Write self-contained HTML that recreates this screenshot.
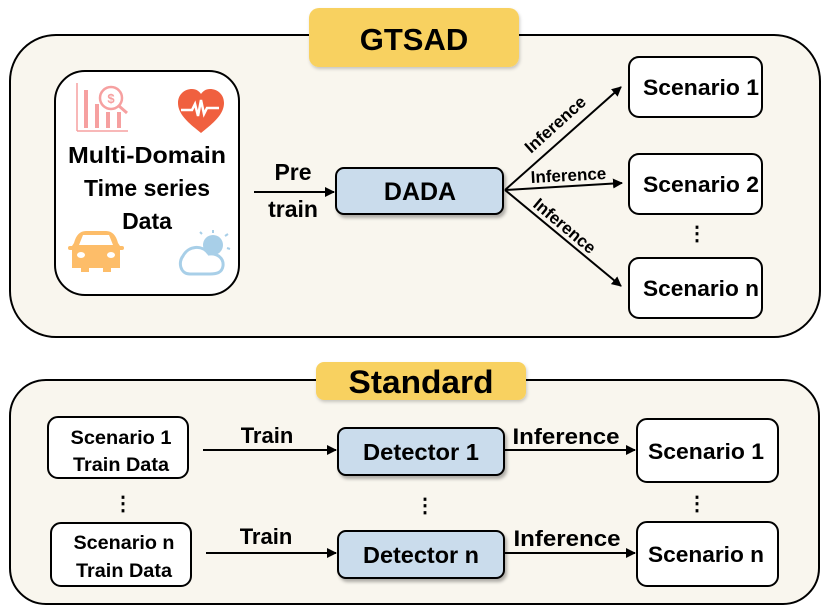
<!DOCTYPE html>
<html><head><meta charset="utf-8">
<style>
html,body{margin:0;padding:0;background:#fff;}
svg{display:block;}
text{font-family:"Liberation Sans",sans-serif;font-weight:bold;fill:#000;}
</style></head>
<body>
<svg width="831" height="609" viewBox="0 0 831 609" xmlns="http://www.w3.org/2000/svg">
<defs>
<marker id="ah" markerWidth="10" markerHeight="10" refX="9" refY="5" orient="auto" markerUnits="userSpaceOnUse">
<path d="M0,0 L10,5 L0,10 z" fill="#000"/></marker>
<filter id="sh" x="-10%" y="-20%" width="130%" height="150%"><feDropShadow dx="2" dy="3" stdDeviation="1.5" flood-color="#000" flood-opacity="0.3"/></filter>
<filter id="sh2" x="-10%" y="-20%" width="130%" height="150%"><feDropShadow dx="1" dy="2" stdDeviation="1.5" flood-color="#000" flood-opacity="0.2"/></filter>
</defs>

<rect x="10" y="35" width="810" height="302" rx="46" fill="#f9f6ee" stroke="#000" stroke-width="2"/>
<rect x="309" y="8" width="210" height="59" rx="10" fill="#f8d160" filter="url(#sh2)"/>
<text x="414" y="50" font-size="31" text-anchor="middle">GTSAD</text>

<rect x="55" y="71" width="184" height="224" rx="30" fill="#fff" stroke="#000" stroke-width="2"/>
<g stroke="#f6a0a0" fill="none" stroke-width="1.5">
<line x1="77" y1="83" x2="77" y2="131"/><line x1="77" y1="131" x2="128" y2="131"/>
</g>
<g fill="#f6a0a0">
<rect x="84" y="90" width="4" height="38"/><rect x="95" y="104" width="4" height="24"/>
<rect x="106" y="112" width="4" height="16"/><rect x="117" y="112" width="4" height="16"/>
</g>
<circle cx="111" cy="98" r="11" fill="#fff" stroke="#f6a0a0" stroke-width="2.5"/>
<line x1="119" y1="106" x2="127" y2="113" stroke="#f6a0a0" stroke-width="3"/>
<text x="111" y="103" font-size="13" text-anchor="middle" style="fill:#f6a0a0">$</text>
<path d="M201,133 C190,124 178,115 178,103 C178,94 185,89 192,89 C196,89 199,91 201,94 C203,91 206,89 210,89 C217,89 224,94 224,103 C224,115 212,124 201,133 z" fill="#f0603f"/>
<polyline points="181,110 192,110 195,104 198,116 201,100 204,114 207,108 219,108" fill="none" stroke="#fff" stroke-width="2.5"/>
<text x="147" y="163" font-size="23" text-anchor="middle" textLength="158" lengthAdjust="spacingAndGlyphs">Multi-Domain</text>
<text x="147" y="196" font-size="23" text-anchor="middle" textLength="126" lengthAdjust="spacingAndGlyphs">Time series</text>
<text x="147" y="229" font-size="23" text-anchor="middle">Data</text>
<path d="M74,243 C76,235 80,231 86,231 L106,231 C112,231 116,235 118,243 L120,246 L120,268 L111,268 L111,272 L103,272 L103,268 L89,268 L89,272 L81,272 L81,268 L72,268 L72,246 z" fill="#fdbd69"/>
<rect x="68" y="246" width="6" height="4" rx="2" fill="#fdbd69"/><rect x="118" y="246" width="6" height="4" rx="2" fill="#fdbd69"/>
<path d="M79,245 L83,235 L109,235 L113,245 z" fill="#fff"/>
<ellipse cx="81" cy="255" rx="4" ry="3" fill="#fff"/><ellipse cx="111" cy="255" rx="4" ry="3" fill="#fff"/>
<circle cx="213" cy="245" r="10" fill="#a8cfe8"/>
<g stroke="#a8cfe8" stroke-width="2"><line x1="213" y1="230" x2="213" y2="233"/><line x1="225" y1="236" x2="228" y2="234"/><line x1="227" y1="248" x2="230" y2="249"/><line x1="202" y1="234" x2="200" y2="232"/></g>
<path d="M190,274 C180,274 178,262 183,256 C188,246 202,244 209,254 C217,253 224,258 223,266 C222,273 216,274 210,274 z" fill="#fff" stroke="#a8cfe8" stroke-width="3"/>

<line x1="254" y1="192" x2="334" y2="192" stroke="#000" stroke-width="2" marker-end="url(#ah)"/>
<text x="293" y="180" font-size="23" text-anchor="middle">Pre</text>
<text x="293" y="217" font-size="23" text-anchor="middle">train</text>

<rect x="336" y="168" width="167" height="46" rx="8" fill="#cadcec" stroke="#000" stroke-width="2" filter="url(#sh)"/>
<text x="420" y="200" font-size="25" text-anchor="middle">DADA</text>

<line x1="505" y1="190" x2="621" y2="87" stroke="#000" stroke-width="2" marker-end="url(#ah)"/>
<line x1="505" y1="190" x2="622" y2="183" stroke="#000" stroke-width="2" marker-end="url(#ah)"/>
<line x1="505" y1="190" x2="621" y2="286" stroke="#000" stroke-width="2" marker-end="url(#ah)"/>
<text transform="translate(531,154) rotate(-42)" font-size="17">Inference</text>
<text transform="translate(531,183) rotate(-3)" font-size="17">Inference</text>
<text transform="translate(532,206) rotate(40)" font-size="17">Inference</text>

<rect x="629" y="57" width="133" height="60" rx="10" fill="#fff" stroke="#000" stroke-width="2"/>
<text x="701" y="95" font-size="22" text-anchor="middle" textLength="116" lengthAdjust="spacingAndGlyphs">Scenario 1</text>
<rect x="629" y="154" width="133" height="60" rx="10" fill="#fff" stroke="#000" stroke-width="2"/>
<text x="701" y="192" font-size="22" text-anchor="middle" textLength="116" lengthAdjust="spacingAndGlyphs">Scenario 2</text>
<text x="697" y="240" font-size="20" text-anchor="middle">⋮</text>
<rect x="629" y="258" width="133" height="60" rx="10" fill="#fff" stroke="#000" stroke-width="2"/>
<text x="701" y="296" font-size="22" text-anchor="middle" textLength="116" lengthAdjust="spacingAndGlyphs">Scenario n</text>

<rect x="10" y="380" width="809" height="224" rx="36" fill="#f9f6ee" stroke="#000" stroke-width="2"/>
<rect x="316" y="362" width="210" height="38" rx="8" fill="#f8d160" filter="url(#sh2)"/>
<text x="421" y="393" font-size="32" text-anchor="middle" textLength="145" lengthAdjust="spacingAndGlyphs">Standard</text>

<rect x="48" y="417" width="140" height="61" rx="10" fill="#fff" stroke="#000" stroke-width="2"/>
<text x="121" y="444" font-size="19" text-anchor="middle" textLength="101" lengthAdjust="spacingAndGlyphs">Scenario 1</text>
<text x="121" y="471" font-size="19" text-anchor="middle" textLength="96" lengthAdjust="spacingAndGlyphs">Train Data</text>
<text x="123" y="510" font-size="20" text-anchor="middle">⋮</text>
<rect x="51" y="523" width="140" height="63" rx="10" fill="#fff" stroke="#000" stroke-width="2"/>
<text x="124" y="549" font-size="19" text-anchor="middle" textLength="101" lengthAdjust="spacingAndGlyphs">Scenario n</text>
<text x="124" y="577" font-size="19" text-anchor="middle" textLength="96" lengthAdjust="spacingAndGlyphs">Train Data</text>

<line x1="203" y1="450" x2="336" y2="450" stroke="#000" stroke-width="2" marker-end="url(#ah)"/>
<text x="267" y="443" font-size="22" text-anchor="middle">Train</text>
<line x1="206" y1="553" x2="336" y2="553" stroke="#000" stroke-width="2" marker-end="url(#ah)"/>
<text x="266" y="544" font-size="22" text-anchor="middle">Train</text>

<rect x="338" y="428" width="166" height="47" rx="8" fill="#cadcec" stroke="#000" stroke-width="2" filter="url(#sh)"/>
<text x="421" y="460" font-size="23" text-anchor="middle" textLength="116" lengthAdjust="spacingAndGlyphs">Detector 1</text>
<text x="425" y="512" font-size="20" text-anchor="middle">⋮</text>
<rect x="338" y="531" width="166" height="47" rx="8" fill="#cadcec" stroke="#000" stroke-width="2" filter="url(#sh)"/>
<text x="421" y="563" font-size="23" text-anchor="middle" textLength="116" lengthAdjust="spacingAndGlyphs">Detector n</text>

<line x1="505" y1="450" x2="635" y2="450" stroke="#000" stroke-width="2" marker-end="url(#ah)"/>
<text x="566" y="444" font-size="22" text-anchor="middle" textLength="107" lengthAdjust="spacingAndGlyphs">Inference</text>
<line x1="505" y1="553" x2="635" y2="553" stroke="#000" stroke-width="2" marker-end="url(#ah)"/>
<text x="567" y="546" font-size="22" text-anchor="middle" textLength="107" lengthAdjust="spacingAndGlyphs">Inference</text>

<rect x="637" y="419" width="141" height="63" rx="10" fill="#fff" stroke="#000" stroke-width="2"/>
<text x="706" y="459" font-size="22" text-anchor="middle" textLength="116" lengthAdjust="spacingAndGlyphs">Scenario 1</text>
<text x="697" y="510" font-size="20" text-anchor="middle">⋮</text>
<rect x="637" y="522" width="141" height="64" rx="10" fill="#fff" stroke="#000" stroke-width="2"/>
<text x="706" y="562" font-size="22" text-anchor="middle" textLength="116" lengthAdjust="spacingAndGlyphs">Scenario n</text>
</svg>
</body></html>
